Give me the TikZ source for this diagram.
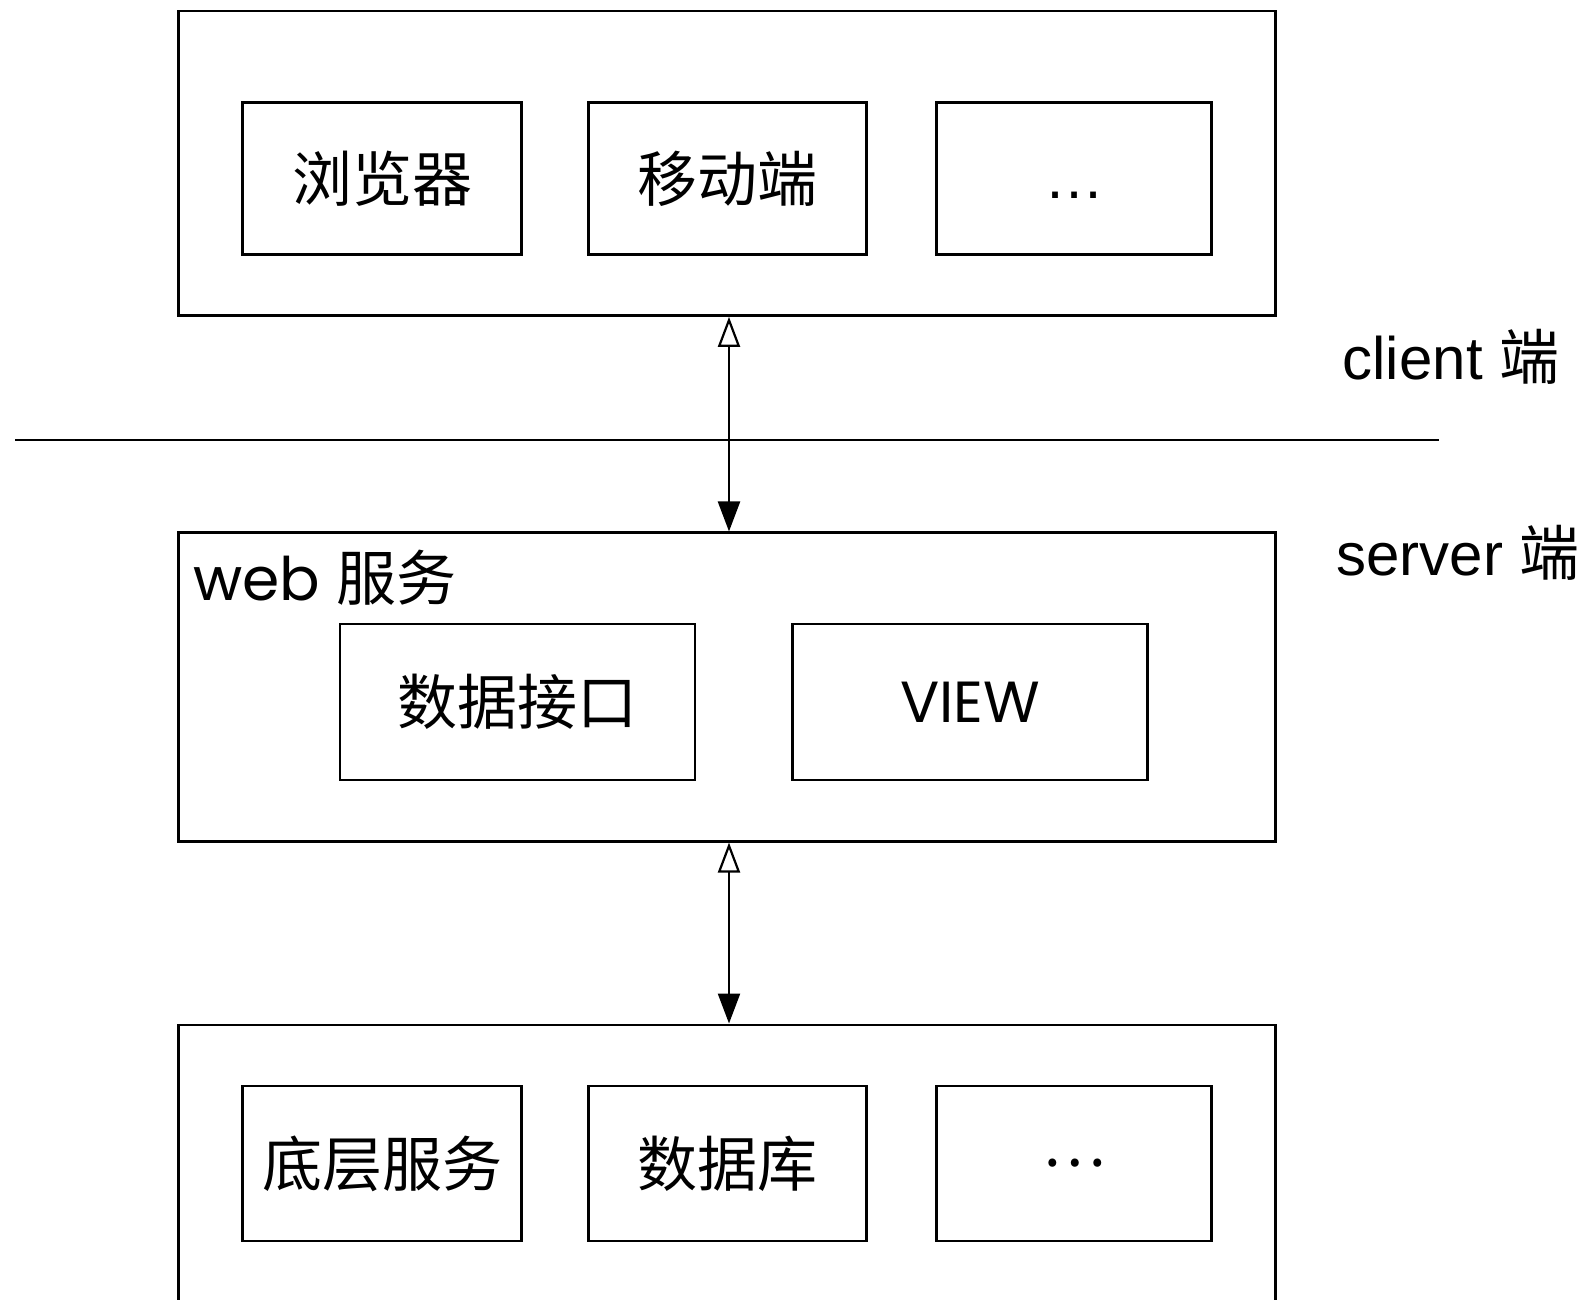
\documentclass[tikz,border=0pt]{standalone}
\usepackage{fontspec}
\usetikzlibrary{arrows.meta}
\newfontfamily\cjk{Noto Sans CJK SC}
\newfontfamily\geo{Poppins}
\newfontfamily\helv{Liberation Sans}
\tikzset{
  box/.style={draw, line width=1.3pt, inner sep=0pt, anchor=center},
  outerbox/.style={box, minimum width=548.5pt, minimum height=152.2pt},
  smallbox/.style={box, minimum height=76.1pt},
  midbox/.style={box, minimum width=177.5pt, minimum height=78pt},
  cjktext/.style={font=\cjk\fontsize{30pt}{36pt}\selectfont},
  geotext/.style={font=\geo\fontsize{29pt}{34pt}\selectfont},
  sidetext/.style={font=\helv\fontsize{30pt}{36pt}\selectfont, inner sep=0pt},
  link/.style={line width=1.2pt, {Triangle[open,length=15pt,width=11pt,line width=1.1pt]}-{Triangle[length=15pt,width=11pt]}}
}
\begin{document}
\begin{tikzpicture}[x=0.5pt,y=-0.5pt]
\useasboundingbox (0,0) rectangle (1591,1300);
\clip (0,0) rectangle (1591,1300);
% top layer
\node[outerbox] (top) at (727,163.4) {};
\node[smallbox, minimum width=139.5pt, cjktext] (t1) at (382,178.6) {浏览器};
\node[smallbox, minimum width=139pt, cjktext] (t2) at (727.5,178.6) {移动端};
\node[smallbox, minimum width=137.5pt, text height=0pt, text depth=0pt, font=\helv\fontsize{30pt}{36pt}\selectfont] (t3) at (1074,178.6) {\raisebox{-10pt}{…}};
% separator
\coordinate (sepL) at (15,440);
\coordinate (sepR) at (1439,440);
\draw[line width=1.4pt] (sepL) -- (sepR);
\node[sidetext, anchor=center] (client) at (1451,357) {client {\cjk 端}};
\node[sidetext, anchor=center] (server) at (1458,553) {server {\cjk 端}};
% web layer
\node[box, minimum width=548.5pt, minimum height=154.25pt] (web) at (727,687) {};
\node[anchor=west, inner sep=0pt, font=\geo\fontsize{30pt}{36pt}\selectfont] (webl) at (193,578) {web {\cjk 服务}};
\node[midbox, cjktext] (w1) at (517.5,702) {数据接口};
\node[midbox, geotext] (w2) at (970,702) {VIEW};
% bottom layer
\node[box, minimum width=548.5pt, minimum height=187.6pt] (bot) at (727,1212.4) {};
\node[box, minimum width=139.5pt, minimum height=77.6pt, cjktext] (b1) at (382,1163.4) {底层服务};
\node[box, minimum width=139pt, minimum height=77.6pt, cjktext] (b2) at (727.5,1163.4) {数据库};
\node[box, minimum width=137.5pt, minimum height=77.6pt, cjktext] (b3) at (1074,1163.4) {⋯};
% connectors
\draw[link] ([xshift=1pt]top.south) -- ([xshift=1pt]web.north);
\draw[link] ([xshift=1pt]web.south) -- ([xshift=1pt]bot.north);
\end{tikzpicture}
\end{document}
